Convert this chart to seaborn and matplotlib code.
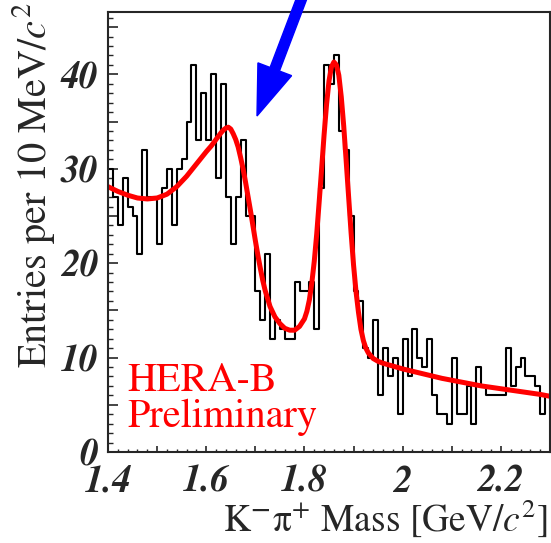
import numpy as np
import pandas as pd
import matplotlib
matplotlib.use("Agg")
import matplotlib.pyplot as plt
from matplotlib.ticker import MultipleLocator, FuncFormatter
from matplotlib.patches import FancyArrow
import seaborn as sns

# K- pi+ invariant mass histogram, 10 MeV bins from 1.40 to 2.30 GeV
mass_lo, mass_hi, bin_width = 1.40, 2.30, 0.01
entries = [30, 27, 24, 29, 26, 25, 21, 32, 27, 27,
           22, 28, 30, 24, 30, 31, 35, 41, 33, 38,
           33, 40, 29, 39, 27, 22, 27, 33, 25, 25,
           17, 14, 21, 12, 14, 13, 12, 12, 18, 17,
           17, 18, 13, 28, 41, 39, 42, 34, 32, 25,
           17, 16, 11, 10, 14, 6, 11, 8, 10, 4,
           12, 8, 13, 10, 9, 12, 6, 4, 4, 3,
           10, 4, 4, 7, 3, 9, 7, 6, 6, 6,
           6, 11, 7, 9, 10, 8, 8, 7, 4, 6]

# fitted curve (reflection bump + D0 signal + background)
fit_mass = [1.40, 1.42, 1.44, 1.46, 1.48, 1.50, 1.52, 1.54, 1.56, 1.58,
            1.60, 1.61, 1.62, 1.63, 1.635, 1.64, 1.645, 1.65, 1.655, 1.66,
            1.665, 1.67, 1.675, 1.68, 1.685, 1.69, 1.695, 1.70, 1.705, 1.71,
            1.715, 1.72, 1.73, 1.74, 1.75, 1.76, 1.77, 1.78, 1.79, 1.80,
            1.805, 1.81, 1.815, 1.82, 1.825, 1.83, 1.835, 1.84, 1.845, 1.85,
            1.855, 1.86, 1.865, 1.87, 1.875, 1.88, 1.885, 1.89, 1.895, 1.90,
            1.905, 1.91, 1.915, 1.92, 1.925, 1.93, 1.935, 1.94, 1.95, 1.96,
            1.98, 2.00, 2.04, 2.08, 2.12, 2.16, 2.20, 2.24, 2.28, 2.30]
fit_entries = [28.1, 27.6, 27.2, 26.9, 26.8, 26.9, 27.3, 28.1, 29.2, 30.5,
               31.8, 32.4, 33.1, 33.8, 34.1, 34.3, 34.4, 34.2, 33.7, 33.1,
               32.3, 31.2, 30.0, 28.6, 27.1, 25.6, 24.0, 22.4, 20.9, 19.5,
               18.2, 17.1, 15.4, 14.3, 13.6, 13.1, 12.9, 12.9, 13.3, 14.1,
               14.9, 16.1, 17.9, 20.2, 23.1, 26.5, 30.0, 33.6, 36.8, 39.3,
               40.8, 41.3, 41.0, 39.9, 37.6, 34.5, 30.8, 27.0, 23.2, 19.8,
               17.0, 14.8, 13.0, 11.8, 11.0, 10.5, 10.2, 9.9, 9.6, 9.4,
               9.1, 8.8, 8.3, 7.8, 7.4, 7.0, 6.7, 6.4, 6.1, 5.9]

sns.set_style("ticks")
plt.rcParams["font.family"] = ["STIXGeneral", "DejaVu Serif"]
plt.rcParams["mathtext.fontset"] = "stix"

W, H = 551, 543
fig = plt.figure(figsize=(W / 100, H / 100), dpi=100)
ax = fig.add_axes([108 / W, 1 - 452 / H, (550 - 108) / W, (452 - 12) / H])

centers = mass_lo + bin_width * (np.arange(len(entries)) + 0.5)
hist_df = pd.DataFrame({"mass": centers, "entries": entries})
sns.histplot(data=hist_df, x="mass", weights="entries",
             binwidth=bin_width, binrange=(mass_lo, mass_hi),
             element="step", fill=False, color="black", linewidth=1.5, ax=ax)
sns.lineplot(x=fit_mass, y=fit_entries, color="#ff0000", linewidth=3.6,
             ax=ax, sort=True)

ax.set_xlim(mass_lo, mass_hi)
ax.set_ylim(0, 46.6)
ax.set_xlabel("")
ax.set_ylabel("")

for s in ax.spines.values():
    s.set_linewidth(1.5)
    s.set_visible(True)

ax.xaxis.set_major_locator(MultipleLocator(0.1))
ax.xaxis.set_minor_locator(MultipleLocator(0.02))
ax.xaxis.set_major_formatter(FuncFormatter(
    lambda v, p: f"{round(v, 1):g}" if round(v * 10) % 2 == 0 else ""))
ax.yaxis.set_major_locator(MultipleLocator(5))
ax.yaxis.set_minor_locator(MultipleLocator(1))
ax.yaxis.set_major_formatter(FuncFormatter(
    lambda v, p: f"{round(v):d}" if round(v) % 10 == 0 else ""))

ax.tick_params(axis="y", which="major", direction="in", length=7.2, width=1.2,
               pad=7, right=False)
ax.tick_params(axis="y", which="minor", direction="in", length=3.6, width=1.0,
               right=False)
ax.tick_params(axis="x", which="major", direction="in", length=4.5, width=1.2,
               pad=9, top=False)
ax.tick_params(axis="x", which="minor", direction="in", length=2.5, width=1.0,
               top=False)
for lab in ax.get_xticklabels() + ax.get_yticklabels():
    lab.set_fontsize(27)
    lab.set_fontstyle("italic")
    lab.set_fontweight("bold")

fig.text(10 / W, 1 - 3 / H, r"Entries per 10 MeV/$c^{2}$", rotation=90,
         ha="left", va="top", fontsize=29)
fig.text(548 / W, 12 / H, r"K$^{\mathbf{-}}\mathrm{\pi}^{+}$ Mass [GeV/$c^{2}$]",
         ha="right", va="baseline", fontsize=27)

fig.text(127 / W, 1 - 363 / H, "HERA-B\nPreliminary", color="#ff0000",
         ha="left", va="top", fontsize=29, linespacing=0.92)

arrow = FancyArrow(3.03, 5.48, -0.46, -1.21, width=0.10, head_width=0.36,
                   head_length=0.50, length_includes_head=True,
                   color="#0000ff", transform=fig.dpi_scale_trans,
                   clip_on=False)
fig.add_artist(arrow)

fig.savefig("out.png", dpi=100)
